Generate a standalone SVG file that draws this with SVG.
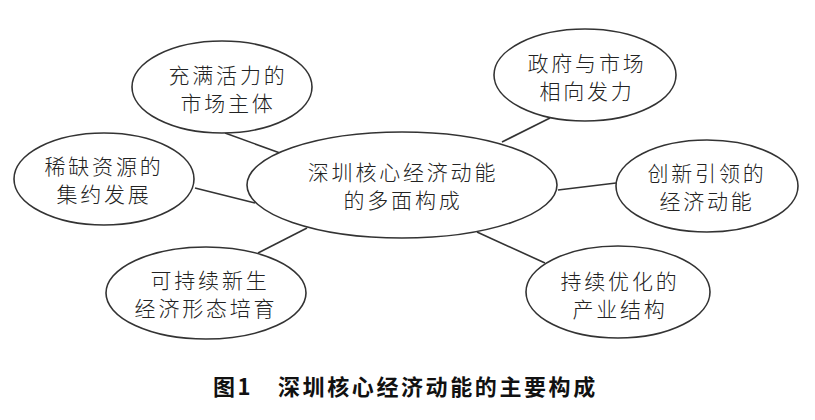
<svg xmlns="http://www.w3.org/2000/svg" width="815" height="420" viewBox="0 0 815 420">
<style>
.n{fill:#fff;stroke:#333;stroke-width:1.6}
.c line{stroke:#333;stroke-width:1.6}
.t{font-family:"Noto Sans CJK SC","Noto Sans CJK TC",sans-serif;font-size:21px;letter-spacing:2.8px;fill:#222;text-anchor:middle;dominant-baseline:central;font-weight:300}
.cap{font-family:"Noto Sans CJK SC",sans-serif;font-size:22px;font-weight:bold;fill:#111;letter-spacing:2.6px}
</style>
<rect width="815" height="420" fill="#fff"/>
<g class="c" id="connectors">
<line x1="225" y1="133" x2="280" y2="153"/>
<line x1="195" y1="188" x2="255" y2="203"/>
<line x1="550" y1="118" x2="502" y2="142"/>
<line x1="558" y1="190" x2="616" y2="183"/>
<line x1="307" y1="228" x2="258" y2="253"/>
<line x1="477" y1="232" x2="545" y2="263"/>
</g>
<g id="center"><ellipse class="n" cx="402" cy="185" rx="155" ry="53"/>
<text class="t" x="403" y="171">深圳核心经济动能</text><text class="t" x="403" y="199">的多面构成</text></g>
<g id="n1"><ellipse class="n" cx="222" cy="87" rx="90" ry="46"/>
<text class="t" x="228" y="74">充满活力的</text><text class="t" x="228" y="102">市场主体</text></g>
<g id="n2"><ellipse class="n" cx="104" cy="179" rx="90" ry="46"/>
<text class="t" x="104" y="165">稀缺资源的</text><text class="t" x="104" y="193">集约发展</text></g>
<g id="n3"><ellipse class="n" cx="585" cy="75" rx="91" ry="46"/>
<text class="t" x="587" y="62">政府与市场</text><text class="t" x="587" y="90">相向发力</text></g>
<g id="n4"><ellipse class="n" cx="707" cy="186" rx="91" ry="46"/>
<text class="t" x="707" y="172">创新引领的</text><text class="t" x="707" y="200">经济动能</text></g>
<g id="n5"><ellipse class="n" cx="206" cy="293" rx="100" ry="46"/>
<text class="t" x="210" y="279">可持续新生</text><text class="t" x="206" y="307">经济形态培育</text></g>
<g id="n6"><ellipse class="n" cx="618" cy="292" rx="92" ry="46"/>
<text class="t" x="620" y="280">持续优化的</text><text class="t" x="620" y="308">产业结构</text></g>
<text class="cap" x="213" y="395">图1</text>
<text class="cap" x="278" y="395">深圳核心经济动能的主要构成</text>
</svg>
